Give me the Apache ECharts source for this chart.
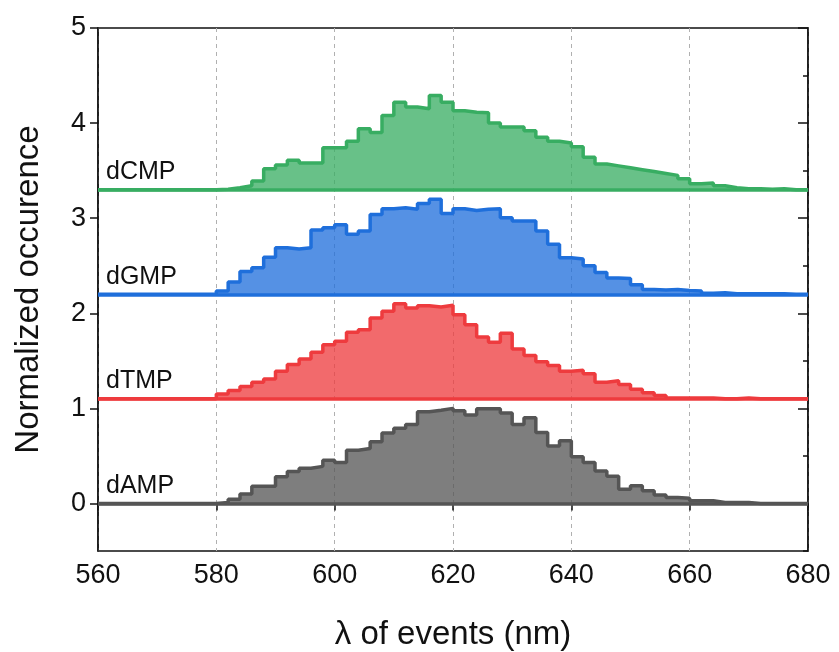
<!DOCTYPE html>
<html>
<head>
<meta charset="utf-8">
<script src="https://cdn.jsdelivr.net/npm/echarts@6/dist/echarts.min.js"></script>
<style>html,body{margin:0;padding:0;background:#fff}#c{width:839px;height:652px}</style>
</head>
<body>
<div id="c"></div>
<script>
// bin left edges: 560,562,...,678 (2 nm bins)
var binStart = 560, binWidth = 2, binCount = 60;
var names = ['dAMP', 'dTMP', 'dGMP', 'dCMP'];
var offsets = [0, 1.1, 2.2, 3.3];
var zeros10 = [0,0,0,0,0,0,0,0,0,0];
var dAMP = zeros10.concat([
  0.01,0.045,0.10,0.18,0.18,0.28,0.335,0.37,0.39,0.455,
  0.43,0.56,0.577,0.65,0.74,0.79,0.83,0.965,0.98,1.0,
  0.975,0.93,0.995,0.995,0.95,0.83,0.90,0.745,0.605,0.66,
  0.49,0.43,0.34,0.285,0.15,0.185,0.133,0.09,0.063,0.055,
  0.028,0.028,0.01,0.01,0.01,0,0,0,0,0]);
var dTMP = zeros10.concat([
  0.05,0.087,0.13,0.175,0.21,0.29,0.36,0.42,0.49,0.57,
  0.605,0.70,0.727,0.85,0.92,1.0,0.955,0.98,0.965,0.985,
  0.885,0.78,0.65,0.595,0.69,0.525,0.455,0.39,0.35,0.29,
  0.30,0.265,0.175,0.19,0.15,0.10,0.063,0.035,0.01,0.01,
  0.01,0.01,0,0,0.01,0,0,0,0,0]);
var dGMP = zeros10.concat([
  0.035,0.13,0.24,0.28,0.39,0.49,0.475,0.49,0.675,0.70,
  0.73,0.63,0.665,0.84,0.90,0.91,0.895,0.955,1.0,0.85,
  0.90,0.88,0.895,0.90,0.805,0.77,0.77,0.665,0.525,0.385,
  0.37,0.30,0.23,0.17,0.165,0.10,0.05,0.045,0.05,0.04,
  0.035,0.01,0.015,0.005,0.005,0.005,0.005,0.005,0,0]);
var dCMP = zeros10.concat([
  0.005,0.02,0.04,0.09,0.22,0.26,0.31,0.28,0.28,0.44,
  0.44,0.51,0.64,0.60,0.78,0.92,0.87,0.85,0.99,0.92,
  0.83,0.815,0.81,0.70,0.66,0.66,0.62,0.55,0.51,0.49,
  0.45,0.34,0.27,0.25,0.23,0.21,0.19,0.17,0.15,0.115,
  0.063,0.07,0.04,0.02,0.01,0.01,0.005,0.01,0,0]);
var values = [dAMP, dTMP, dGMP, dCMP];
var lineColors = ['#555555', '#EE3B3E', '#1F6FDB', '#38AD62'];
var xTicks = [560, 580, 600, 620, 640, 660, 680];
var yTicks = [0, 1, 2, 3, 4, 5];
var yMinorTicks = [-0.5, 0.5, 1.5, 2.5, 3.5, 4.5];

var FONT = '"Liberation Sans", Arial, sans-serif';
var series = values.map(function (vals, k) {
  var off = offsets[k];
  var pts = vals.map(function (v, i) { return [binStart + i * binWidth, v + off]; });
  pts.push([binStart + binCount * binWidth, vals[vals.length - 1] + off]);
  return {
    type: 'line', name: names[k], step: 'end', data: pts, symbol: 'none',
    lineStyle: { color: lineColors[k], width: 3.5 },
    areaStyle: { color: lineColors[k], opacity: 0.76, origin: off },
    z: 2 + k,
    markLine: {
      silent: true, symbol: 'none', animation: false,
      lineStyle: { color: lineColors[k], width: 3.5, type: 'solid' },
      label: { show: true, position: 'insideStartTop', formatter: names[k],
        color: '#111', fontSize: 25, fontFamily: FONT, distance: [8, 5] },
      data: [{ yAxis: off }]
    }
  };
});

var chart = echarts.init(document.getElementById('c'), null, { renderer: 'canvas' });
chart.setOption({
  animation: false,
  backgroundColor: '#fff',
  grid: { left: 98, right: 31, top: 28, bottom: 101, outerBoundsMode: 'none', containLabel: false,
    show: true, borderColor: '#111', borderWidth: 1.5, backgroundColor: 'transparent' },
  xAxis: {
    type: 'value', min: 560, max: 680, interval: 20,
    name: 'λ of events (nm)', nameLocation: 'middle', nameGap: 67,
    nameTextStyle: { fontSize: 33, color: '#111', fontFamily: FONT },
    axisLine: { show: true, lineStyle: { color: '#111', width: 1.5 } },
    axisTick: { show: true, length: 7, lineStyle: { color: '#111', width: 1.5 } },
    axisLabel: { fontSize: 27, color: '#111', fontFamily: FONT, margin: 11 },
    splitLine: { show: true, lineStyle: { color: '#b0b0b0', type: [4, 4], width: 1 } }
  },
  yAxis: [{
    type: 'value', min: -0.5, max: 5,
    name: 'Normalized occurence', nameLocation: 'middle', nameGap: 53,
    nameTextStyle: { fontSize: 33, color: '#111', fontFamily: FONT },
    axisLine: { show: true, lineStyle: { color: '#111', width: 1.5 } },
    axisTick: { show: true, length: 8, customValues: yTicks, lineStyle: { color: '#111', width: 1.5 } },
    axisLabel: { fontSize: 27, color: '#111', fontFamily: FONT, margin: 12, customValues: yTicks },
    splitLine: { show: false }
  }, {
    type: 'value', min: -0.5, max: 5, position: 'right',
    axisLine: { show: true, lineStyle: { color: '#111', width: 1.5 } },
    axisTick: { show: true, inside: true, length: 10, customValues: yTicks, lineStyle: { color: '#111', width: 1.5 } },
    axisLabel: { show: false, customValues: yTicks },
    splitLine: { show: false }
  }, {
    type: 'value', min: -0.5, max: 5, position: 'right',
    axisLine: { show: false },
    axisTick: { show: true, inside: true, length: 5, customValues: yMinorTicks, lineStyle: { color: '#111', width: 1.5 } },
    axisLabel: { show: false, customValues: yMinorTicks },
    splitLine: { show: false }
  }],
  series: series
});
</script>
</body>
</html>
